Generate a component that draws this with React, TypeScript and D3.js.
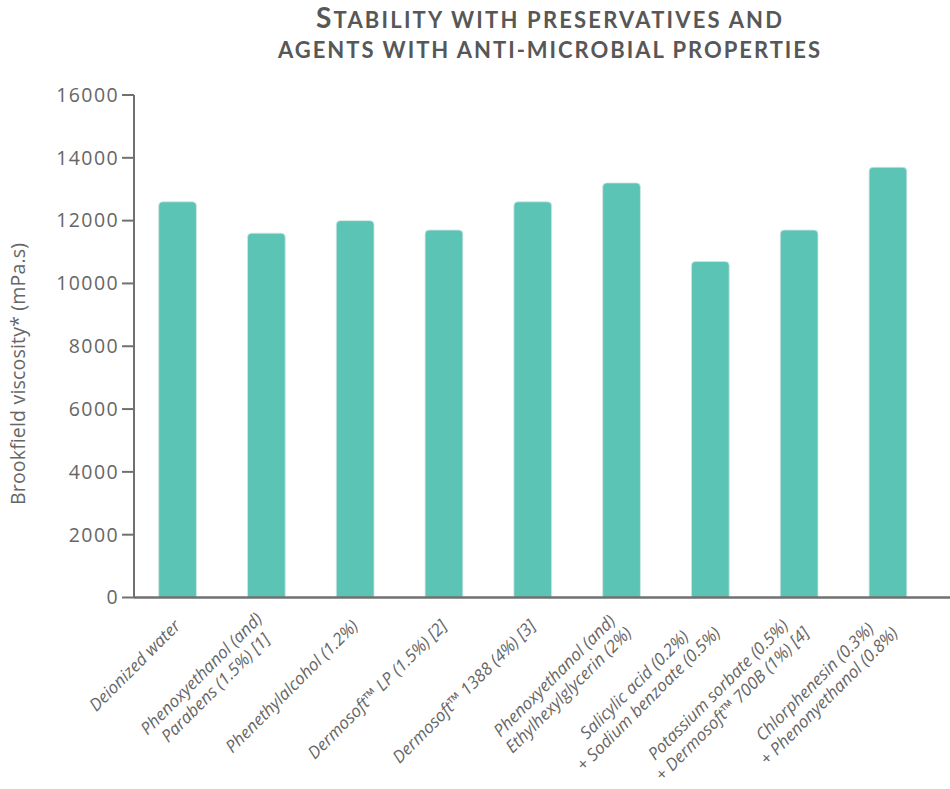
import React from "react";
import * as d3 from "d3";

// Formulations tested (two-line labels are split with "\n")
const categories: string[] = [
  "Deionized water",
  "Phenoxyethanol (and)\nParabens (1.5%) [1]",
  "Phenethylalcohol (1.2%)",
  "Dermosoft™ LP (1.5%) [2]",
  "Dermosoft™ 1388 (4%) [3]",
  "Phenoxyethanol (and)\nEthylhexylglycerin (2%)",
  "Salicylic acid (0.2%)\n+ Sodium benzoate (0.5%)",
  "Potassium sorbate (0.5%)\n+ Dermosoft™ 700B (1%) [4]",
  "Chlorphenesin (0.3%)\n+ Phenonyethanol (0.8%)",
];

// Brookfield viscosity in mPa.s
const viscosity: number[] = [12600, 11600, 12000, 11700, 12600, 13200, 10700, 11700, 13700];

const yTicks: number[] = [0, 2000, 4000, 6000, 8000, 10000, 12000, 14000, 16000];

const titleLines: string[] = [
  "Stability with preservatives and",
  "agents with anti-microbial properties",
];
const yAxisTitle = "Brookfield viscosity* (mPa.s)";

const W = 950;
const H = 789;
const axisX = 134;
const yTop = 95;
const yBottom = 597.5;

const BAR_COLOR = "#5bc4b5";
const AXIS_COLOR = "#707070";
const TEXT_COLOR = "#666666";
const FONT = "'Open Sans', sans-serif";

// Bar with rounded top corners
function barPath(x: number, y: number, w: number, h: number, r: number): string {
  const rr = Math.min(r, w / 2, h);
  return [
    `M${x},${y + h}`,
    `L${x},${y + rr}`,
    `Q${x},${y} ${x + rr},${y}`,
    `L${x + w - rr},${y}`,
    `Q${x + w},${y} ${x + w},${y + rr}`,
    `L${x + w},${y + h}`,
    "Z",
  ].join(" ");
}

// Small-caps title: the first letter of the sentence stays a large capital
function TitleLine({ text, y, first, length }: { text: string; y: number; first: boolean; length: number }) {
  const head = first ? text.charAt(0).toUpperCase() : "";
  const rest = (first ? text.slice(1) : text).toUpperCase();
  return (
    <text
      x={549}
      y={y}
      textAnchor="middle"
      fontFamily="Lato, 'Open Sans', sans-serif"
      fontWeight={700}
      fill="#575757"
      textLength={length}
      lengthAdjust="spacing"
    >
      {head && <tspan fontSize={28}>{head}</tspan>}
      <tspan fontSize={22}>{rest}</tspan>
    </text>
  );
}

export default function App() {
  const x = d3
    .scaleBand<string>()
    .domain(categories)
    .range([axisX, axisX + 797.5])
    .paddingInner(0.575)
    .paddingOuter(0.278)
    .align(0.5);

  const y = d3.scaleLinear().domain([0, 16000]).range([yBottom, yTop]);

  const bw = x.bandwidth();
  const lineH = 20;
  const fontSize = 17;

  return (
    <svg width={W} height={H} style={{ position: "absolute", left: 0, top: 0 }}>
      <rect width={W} height={H} fill="#ffffff" />

      <TitleLine text={titleLines[0]} y={28} first={true} length={466} />
      <TitleLine text={titleLines[1]} y={58} first={false} length={542} />

      {/* bars */}
      {categories.map((c, i) => {
        const x0 = x(c) as number;
        const yv = y(viscosity[i]);
        return (
          <path
            key={c}
            d={barPath(x0, yv, bw, yBottom - yv, 4)}
            fill={BAR_COLOR}
            stroke="#d3e6e2"
            strokeWidth={0.8}
          />
        );
      })}

      {/* y axis */}
      <line x1={axisX} x2={axisX} y1={yTop} y2={yBottom} stroke={AXIS_COLOR} strokeWidth={2} />
      {yTicks.map((t) => (
        <g key={t} transform={`translate(0,${y(t)})`}>
          <line x1={axisX - 12} x2={axisX} stroke={AXIS_COLOR} strokeWidth={2} />
          <text
            x={axisX - 15}
            dy="0.35em"
            textAnchor="end"
            fontFamily={FONT}
            fontSize={19.5}
            letterSpacing={1.4}
            fill={TEXT_COLOR}
          >
            {t}
          </text>
        </g>
      ))}

      {/* x axis baseline */}
      <line x1={axisX} x2={W} y1={yBottom} y2={yBottom} stroke={AXIS_COLOR} strokeWidth={2.5} />

      {/* y axis title */}
      <text
        transform={`translate(25,374) rotate(-90)`}
        textAnchor="middle"
        fontFamily={FONT}
        fontSize={19.5}
        textLength={262}
        lengthAdjust="spacing"
        fill={TEXT_COLOR}
      >
        {yAxisTitle}
      </text>

      {/* category labels, rotated -45 degrees; lines centred, block anchored at its right edge middle */}
      {categories.map((c) => {
        const lines = c.split("\n");
        const cx = (x(c) as number) + bw / 2;
        const v0 = -((lines.length - 1) * lineH) / 2;
        return (
          <g key={c} transform={`translate(${cx + 4},627) rotate(-45)`}>
            <text
              fontFamily={FONT}
              fontStyle="italic"
              fontSize={fontSize}
              fill={TEXT_COLOR}
              ref={(el) => {
                if (!el) return;
                const spans = Array.from(el.querySelectorAll("tspan")) as SVGTSpanElement[];
                const widths = spans.map((s) => s.getComputedTextLength());
                const maxW = Math.max(...widths);
                spans.forEach((s) => s.setAttribute("x", String(-maxW / 2)));
              }}
            >
              {lines.map((ln, j) => (
                <tspan key={j} x={0} y={v0 + j * lineH} textAnchor="middle">
                  {ln}
                </tspan>
              ))}
            </text>
          </g>
        );
      })}
    </svg>
  );
}
